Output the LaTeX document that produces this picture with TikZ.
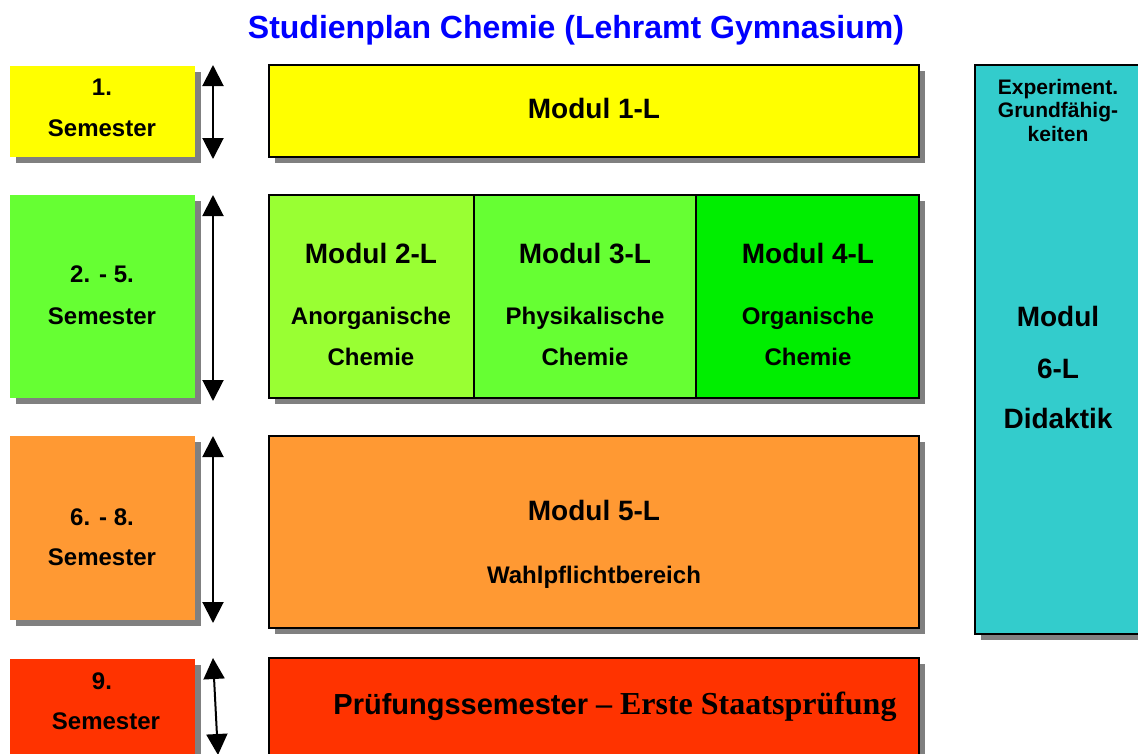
\documentclass[tikz,border=0pt]{standalone}
\usepackage{fontspec}
\setmainfont{Liberation Sans}
\newfontfamily\timesfont{Liberation Serif}
\usetikzlibrary{arrows.meta,shadows}
\definecolor{semyellow}{HTML}{FFFF00}
\definecolor{semgreen}{HTML}{66FF33}
\definecolor{modtwo}{HTML}{99FF33}
\definecolor{modthree}{HTML}{66FF33}
\definecolor{modfour}{HTML}{00EE00}
\definecolor{semorange}{HTML}{FF9933}
\definecolor{semred}{HTML}{FF3300}
\definecolor{didcyan}{HTML}{33CCCC}
\definecolor{shadowgray}{HTML}{808080}
\definecolor{titleblue}{HTML}{0000FF}
\tikzset{
  shadowed/.style={drop shadow={shadow xshift=6pt, shadow yshift=-6pt, fill=shadowgray, opacity=1}},
  sembox/.style={shadowed, inner sep=0pt, outer sep=0pt, draw=none},
  modbox/.style={shadowed, inner sep=0pt, outer sep=0pt, draw=black, line width=2pt},
  bigtxt/.style={font=\bfseries\fontsize{28}{32}\selectfont, inner sep=0pt, text height=20pt, text depth=0pt},
  midtxt/.style={font=\bfseries\fontsize{24}{28}\selectfont, inner sep=0pt, text height=17pt, text depth=0pt},
  smalltxt/.style={font=\bfseries\fontsize{21}{24}\selectfont, inner sep=0pt, text height=15pt, text depth=0pt},
  dblarrow/.style={line width=2pt, {Triangle[width=21pt,length=21pt]}-{Triangle[width=21pt,length=21pt]}},
}
\begin{document}
\begin{tikzpicture}[x=1pt,y=-1pt]
\useasboundingbox (0,0) rectangle (1138,753);
\clip (0,0) rectangle (1138,753);

% title
\node[font=\bfseries\fontsize{32}{36}\selectfont, text=titleblue, inner sep=0pt, text height=23pt, text depth=0pt] (title) at (576,27) {Studienplan Chemie (Lehramt Gymnasium)};

% semester boxes
\node[sembox, fill=semyellow, minimum width=185pt, minimum height=91pt] (s1) at (102.5,111.5) {};
\node[sembox, fill=semgreen, minimum width=185pt, minimum height=203pt] (s2) at (102.5,296.5) {};
\node[sembox, fill=semorange, minimum width=185pt, minimum height=184pt] (s3) at (102.5,528) {};
\node[sembox, fill=semred, minimum width=185pt, minimum height=122pt] (s4) at (102.5,720) {};

\node[midtxt] (s1a) at (102,87) {1.};
\node[midtxt] (s1b) at (102,128) {Semester};
\node[midtxt] (s2a) at (102,274) {2. - 5.};
\node[midtxt] (s2b) at (102,316) {Semester};
\node[midtxt] (s3a) at (102,517) {6. - 8.};
\node[midtxt] (s3b) at (102,557) {Semester};
\node[midtxt] (s4a) at (102,681) {9.};
\node[midtxt] (s4b) at (106,721) {Semester};

% arrows
\coordinate (a1t) at (213,65);
\coordinate (a1b) at (213,159);
\coordinate (a2t) at (213,195);
\coordinate (a2b) at (213,401);
\coordinate (a3t) at (213,436);
\coordinate (a3b) at (213,623);
\coordinate (a4t) at (213,658);
\coordinate (a4b) at (218,755);
\draw[dblarrow] (a1t) -- (a1b);
\draw[dblarrow] (a2t) -- (a2b);
\draw[dblarrow] (a3t) -- (a3b);
\draw[dblarrow] (a4t) -- (a4b);

% module boxes
\node[modbox, fill=semyellow, minimum width=650pt, minimum height=92pt] (m1) at (594,111) {};
\node[modbox, fill=modtwo, minimum width=205pt, minimum height=203pt] (m2) at (371.5,296.5) {};
\node[modbox, fill=modthree, minimum width=222pt, minimum height=203pt] (m3) at (585,296.5) {};
\node[modbox, fill=modfour, minimum width=223pt, minimum height=203pt] (m4) at (807.5,296.5) {};
\node[modbox, fill=semorange, minimum width=650pt, minimum height=192pt] (m5) at (594,532) {};
\node[modbox, fill=semred, minimum width=650pt, minimum height=130pt] (pr) at (594,723) {};
\node[modbox, fill=didcyan, minimum width=180pt, minimum height=569pt] (m6) at (1065,349.5) {};

\node[bigtxt] (m1t) at (594,108) {Modul 1-L};
\node[bigtxt] (m2t) at (371,253) {Modul 2-L};
\node[midtxt] (m2a) at (371,316) {Anorganische};
\node[midtxt] (m2b) at (371,357) {Chemie};
\node[bigtxt] (m3t) at (585,253) {Modul 3-L};
\node[midtxt] (m3a) at (585,316) {Physikalische};
\node[midtxt] (m3b) at (585,357) {Chemie};
\node[bigtxt] (m4t) at (808,253) {Modul 4-L};
\node[midtxt] (m4a) at (808,316) {Organische};
\node[midtxt] (m4b) at (808,357) {Chemie};
\node[bigtxt] (m5t) at (594,510) {Modul 5-L};
\node[midtxt] (m5a) at (594,575) {Wahlpflichtbereich};
\node[inner sep=0pt, font=\bfseries\fontsize{29}{32}\selectfont, text height=21pt, text depth=0pt] (prt) at (615,704) {Prüfungssemester {\timesfont\fontsize{32}{34}\selectfont – Erste Staatsprüfung}};

\node[smalltxt] (m6a) at (1058,87) {Experiment.};
\node[smalltxt] (m6b) at (1058,110) {Grundfähig-};
\node[smalltxt] (m6c) at (1058,134) {keiten};
\node[bigtxt] (m6d) at (1058,316) {Modul};
\node[bigtxt] (m6e) at (1058,368) {6-L};
\node[bigtxt] (m6f) at (1058,418) {Didaktik};
\end{tikzpicture}
\end{document}
